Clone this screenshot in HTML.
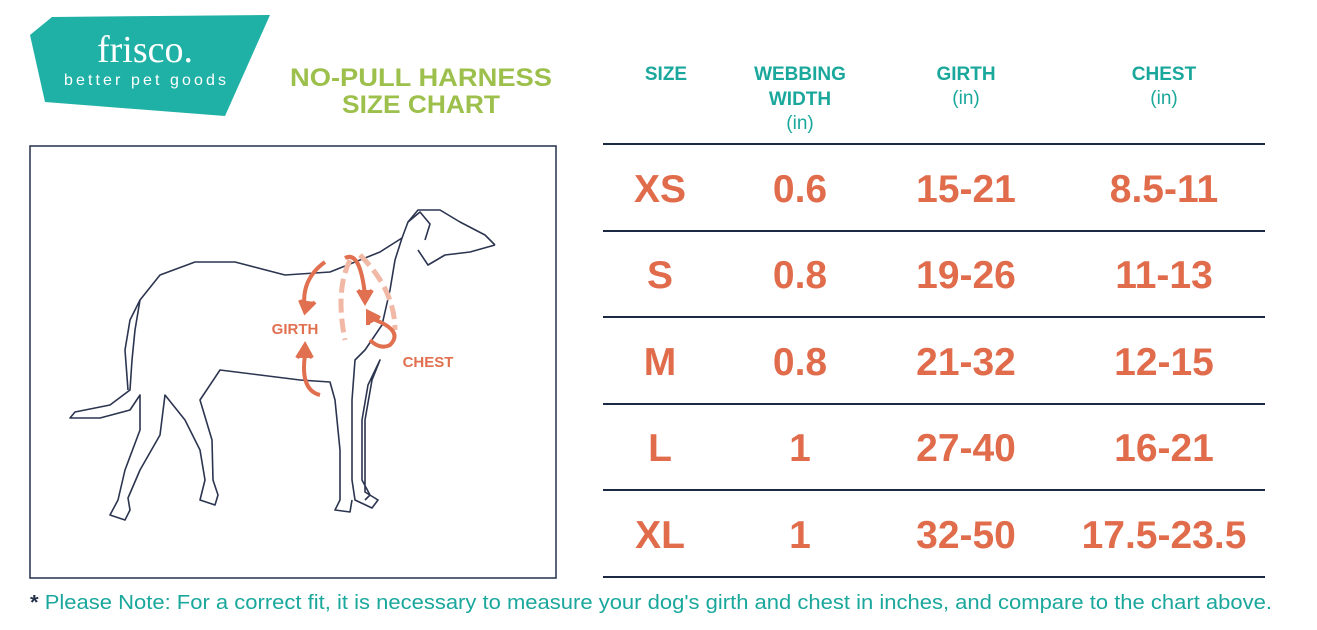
<!DOCTYPE html>
<html><head><meta charset="utf-8"><style>
body{margin:0;background:#fff;}
svg{display:block}
.h{font-family:"Liberation Sans",sans-serif;font-weight:bold;fill:#1aa79c;font-size:19px;text-anchor:middle}
.s{font-family:"Liberation Sans",sans-serif;fill:#1aa79c;font-size:19px;text-anchor:middle}
.v{font-family:"Liberation Sans",sans-serif;font-weight:bold;fill:#e06c4c;font-size:39px;text-anchor:middle}
</style></head><body>
<svg width="1317" height="630" viewBox="0 0 1317 630">
<polygon points="30,35 52,17 270,15 225,116 45,102" fill="#1fb0a6"/>
<text x="145" y="62" font-family="Liberation Serif,serif" font-size="38" fill="#fff" text-anchor="middle">frisco.</text>
<text x="145" y="85" font-family="Liberation Sans,sans-serif" font-size="16" fill="#fff" text-anchor="middle" textLength="162" lengthAdjust="spacing">better pet goods</text>
<text x="421" y="86" font-family="Liberation Sans,sans-serif" font-weight="bold" font-size="25" fill="#9cc04b" text-anchor="middle" textLength="262" lengthAdjust="spacingAndGlyphs">NO-PULL HARNESS</text>
<text x="421" y="113" font-family="Liberation Sans,sans-serif" font-weight="bold" font-size="25" fill="#9cc04b" text-anchor="middle" textLength="158" lengthAdjust="spacingAndGlyphs">SIZE CHART</text>
<rect x="30" y="146" width="526" height="432" fill="none" stroke="#24304a" stroke-width="1.5"/>
<g fill="none" stroke="#2c3550" stroke-width="1.6" stroke-linejoin="round">
<path d="M495,245 L485,235 L460,222 L440,210 L418,210 L408,222 L402,238 L395,260 L390,290 L382,325 L365,350 L355,360 L352,400 L352,480 L355,500 L372,508 L378,500 L365,492 L365,420 L372,380 L380,360 L368,385 L362,420 L362,480 L370,495 L365,500"/>
<path d="M495,245 L470,252 L445,255 L428,265 L418,250"/>
<path d="M408,222 L420,212 L430,224 L425,240"/>
<path d="M402,238 L380,252 L330,272 L285,275 L235,262 L195,262 L160,275 L140,300 L135,330 L132,360 L130,390 L110,405 L75,412 L70,418 L100,418 L130,410 L140,395 L140,430 L125,470 L118,500 L110,515 L125,520 L130,510 L128,498 L140,470 L160,435 L165,395 L185,420 L200,450 L205,480 L200,500 L215,505 L218,495 L213,480 L212,440 L200,400 L220,370 L260,375 L300,380 L330,382 L335,400 L340,450 L340,500 L335,510 L350,512 L352,500"/>
<path d="M140,300 L130,320 L125,350 L128,390"/>
</g>
<g fill="none" stroke="#e0704f" stroke-width="4">
<path d="M350,260 Q335,290 345,340" stroke="#f0b8a5" stroke-dasharray="14,6" stroke-width="5"/>
<path d="M360,255 Q395,290 395,330" stroke="#f0b8a5" stroke-dasharray="14,6" stroke-width="5"/>
<path d="M325,262 Q300,280 305,310"/><path d="M300,300 L305,312 L315,302" fill="#e0704f"/>
<path d="M345,258 Q360,250 365,295"/><path d="M358,290 L365,302 L372,290" fill="#e0704f"/>
<path d="M370,318 Q405,330 390,345 Q380,350 370,340"/><path d="M368,325 L368,312 L380,318" fill="#e0704f"/>
<path d="M305,355 Q300,390 320,395"/><path d="M297,358 L305,345 L312,358" fill="#e0704f"/>
</g>
<text x="295" y="334" font-family="Liberation Sans,sans-serif" font-weight="bold" font-size="15" fill="#e0704f" text-anchor="middle">GIRTH</text>
<text x="428" y="367" font-family="Liberation Sans,sans-serif" font-weight="bold" font-size="15" fill="#e0704f" text-anchor="middle">CHEST</text>
<text class="h" x="666" y="80">SIZE</text>
<text class="h" x="800" y="80">WEBBING</text>
<text class="h" x="800" y="105">WIDTH</text>
<text class="s" x="800" y="129">(in)</text>
<text class="h" x="966" y="80">GIRTH</text>
<text class="s" x="966" y="104">(in)</text>
<text class="h" x="1164" y="80">CHEST</text>
<text class="s" x="1164" y="104">(in)</text>
<g stroke="#1c2945" stroke-width="2">
<line x1="603" y1="144" x2="1265" y2="144"/><line x1="603" y1="231" x2="1265" y2="231"/>
<line x1="603" y1="317" x2="1265" y2="317"/><line x1="603" y1="404" x2="1265" y2="404"/>
<line x1="603" y1="490" x2="1265" y2="490"/><line x1="603" y1="577" x2="1265" y2="577"/>
</g>
<text class="v" x="660" y="202">XS</text><text class="v" x="800" y="202">0.6</text><text class="v" x="966" y="202">15-21</text><text class="v" x="1164" y="202">8.5-11</text>
<text class="v" x="660" y="288">S</text><text class="v" x="800" y="288">0.8</text><text class="v" x="966" y="288">19-26</text><text class="v" x="1164" y="288">11-13</text>
<text class="v" x="660" y="375">M</text><text class="v" x="800" y="375">0.8</text><text class="v" x="966" y="375">21-32</text><text class="v" x="1164" y="375">12-15</text>
<text class="v" x="660" y="461">L</text><text class="v" x="800" y="461">1</text><text class="v" x="966" y="461">27-40</text><text class="v" x="1164" y="461">16-21</text>
<text class="v" x="660" y="548">XL</text><text class="v" x="800" y="548">1</text><text class="v" x="966" y="548">32-50</text><text class="v" x="1164" y="548">17.5-23.5</text>
<text x="30" y="609" font-family="Liberation Sans,sans-serif" font-size="20" fill="#1aa79c" textLength="1242" lengthAdjust="spacingAndGlyphs"><tspan fill="#24304a" font-weight="bold">*</tspan> Please Note: For a correct fit, it is necessary to measure your dog's girth and chest in inches, and compare to the chart above.</text>
</svg>
</body></html>
